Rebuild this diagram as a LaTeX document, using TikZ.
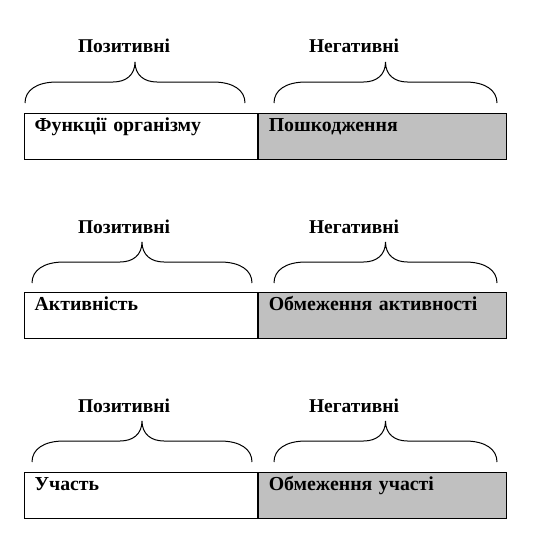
\documentclass[tikz,border=0pt]{standalone}
\usepackage{fontspec}
\setmainfont{Liberation Serif}
\usetikzlibrary{positioning}
\definecolor{cShade}{RGB}{192,192,192}
\tikzset{
	cell/.style={draw=black, line width=1.2pt, anchor=north west, align=left, inner xsep=10pt, inner ysep=3pt, text height=15pt, text depth=25pt, font=\bfseries\fontsize{19.8}{22}\selectfont},
	poscell/.style={cell, text width=213pt, fill=white},
	negcell/.style={cell, text width=228pt, fill=cShade},
	head/.style={anchor=base, font=\bfseries\fontsize{19.5}{22}\selectfont},
	curly/.style={draw=black, line width=1pt},
}
% brace: left x, right x, y of the ends
\newcommand{\curlybrace}[3]{%
	\draw[curly] (#1,#3) .. controls (#1,#3-13) and (#1+12,#3-21) .. (#1+32,#3-21)
		-- ({(#1+#2)/2-22},#3-21) .. controls ({(#1+#2)/2-9},#3-21) and ({(#1+#2)/2},#3-28) .. ({(#1+#2)/2},#3-41)
		.. controls ({(#1+#2)/2},#3-28) and ({(#1+#2)/2+9},#3-21) .. ({(#1+#2)/2+22},#3-21)
		-- (#2-32,#3-21) .. controls (#2-12,#3-21) and (#2,#3-13) .. (#2,#3);}

\begin{document}
\begin{tikzpicture}[x=1pt, y=-1pt]
	\useasboundingbox (0,0) rectangle (536,544);
	% row 1
	\node[poscell] (p1) at (24,113) {Функції організму};
	\node[negcell, right=0pt of p1.north east, anchor=north west] (n1) {Пошкодження};
	\node[head] (hp1) at (124,52) {Позитивні};
	\node[head] (hn1) at (354,52) {Негативні};
	\curlybrace{25}{245}{103}
	\curlybrace{274}{497}{103}
	% row 2
	\node[poscell] (p2) at (24,292) {Активність};
	\node[negcell, right=0pt of p2.north east, anchor=north west] (n2) {Обмеження активності};
	\node[head] (hp2) at (124,233) {Позитивні};
	\node[head] (hn2) at (354,233) {Негативні};
	\curlybrace{32}{252}{283}
	\curlybrace{274}{497}{283}
	% row 3
	\node[poscell] (p3) at (24,472) {Участь};
	\node[negcell, right=0pt of p3.north east, anchor=north west] (n3) {Обмеження участі};
	\node[head] (hp3) at (124,412) {Позитивні};
	\node[head] (hn3) at (354,412) {Негативні};
	\curlybrace{32}{252}{462}
	\curlybrace{274}{497}{462}
\end{tikzpicture}
\end{document}
